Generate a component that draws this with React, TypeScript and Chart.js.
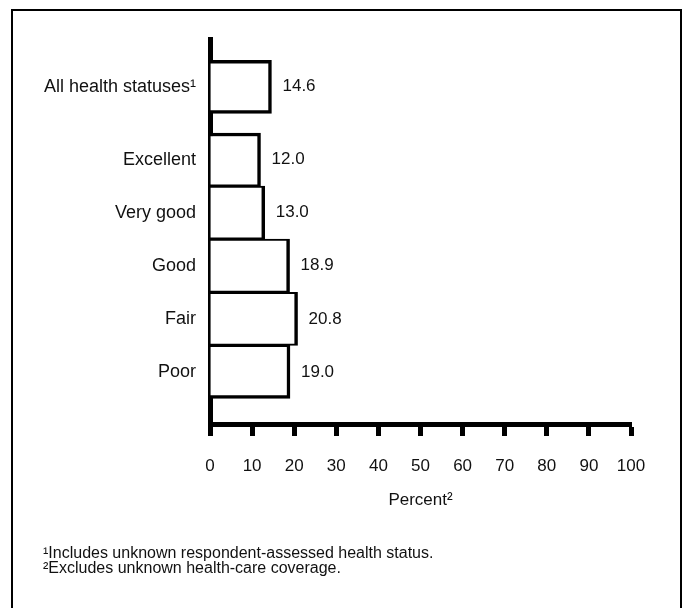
import React, { useEffect, useRef } from "react";
import { Chart, registerables } from "chart.js";

Chart.register(...registerables);

// ---- data ----
const categories = ["All health statuses¹", "Excellent", "Very good", "Good", "Fair", "Poor"];
const percents = [14.6, 12.0, 13.0, 18.9, 20.8, 19.0];
const valueLabels = ["14.6", "12.0", "13.0", "18.9", "20.8", "19.0"];
const xMin = 0;
const xMax = 100;
const xStep = 10;
const axisTitle = "Percent²";
const footnotes = [
  "¹Includes unknown respondent-assessed health status.",
  "²Excludes unknown health-care coverage.",
];

// extra space separating the summary row from the detailed rows
const GROUP_GAP = 0.37;
const rowPos = (i: number) => (i === 0 ? 0 : i + GROUP_GAP);

const FONT = "'Liberation Sans', Arial, Helvetica, sans-serif";

const valueLabelPlugin = {
  id: "valueLabels",
  afterDatasetsDraw(chart: any) {
    const ctx = chart.ctx;
    const meta = chart.getDatasetMeta(0);
    ctx.save();
    ctx.font = `17px ${FONT}`;
    ctx.fillStyle = "#111";
    ctx.textAlign = "left";
    ctx.textBaseline = "middle";
    meta.data.forEach((el: any, i: number) => {
      ctx.fillText(valueLabels[i], el.x + 11, el.y);
    });
    ctx.restore();
  },
};

export default function App() {
  const canvasRef = useRef<HTMLCanvasElement | null>(null);

  useEffect(() => {
    if (!canvasRef.current) return;
    const last = categories.length - 1;
    const chart = new Chart(canvasRef.current, {
      type: "bar",
      data: {
        datasets: [
          {
            data: percents.map((v, i) => ({ x: v, y: rowPos(i) })),
            backgroundColor: "#fff",
            borderColor: "#000",
            borderWidth: (c: any) => {
              const i = c.dataIndex;
              return {
                top: i <= 1 ? 3.5 : 2,
                bottom: i === 0 || i === last ? 3.5 : 2,
                right: 3.5,
                left: 0,
              };
            },
            borderSkipped: "start",
            barPercentage: 1,
            categoryPercentage: 1,
          } as any,
        ],
      },
      options: {
        indexAxis: "y",
        animation: false,
        responsive: true,
        maintainAspectRatio: false,
        layout: { padding: { left: 0, right: 53, top: 39, bottom: 84 } },
        plugins: {
          legend: { display: false },
          tooltip: { enabled: false },
        },
        scales: {
          x: {
            type: "linear",
            position: "bottom",
            min: xMin,
            max: xMax,
            ticks: {
              stepSize: xStep,
              color: "#111",
              font: { family: FONT, size: 17 },
              padding: 20,
              maxRotation: 0,
              autoSkip: false,
            },
            grid: {
              display: true,
              drawOnChartArea: false,
              drawTicks: true,
              tickLength: 12,
              tickWidth: 5,
              tickColor: "#000",
            },
            border: { display: true, color: "#000", width: 5 },
            title: {
              display: true,
              text: axisTitle,
              color: "#111",
              font: { family: FONT, size: 17 },
              padding: { top: 4, bottom: 13 },
            },
            afterFit: (s: any) => {
              s.height = 100;
            },
          },
          y: {
            type: "linear",
            reverse: true,
            offset: false,
            min: -0.9,
            max: 4 + GROUP_GAP + 1.98,
            afterBuildTicks: (s: any) => {
              s.ticks = categories.map((_, i) => ({ value: rowPos(i) }));
            },
            ticks: {
              callback: (_v: any, i: number) => categories[i],
              color: "#111",
              font: { family: FONT, size: 18 },
              padding: 14,
              autoSkip: false,
            },
            grid: { display: false, drawTicks: false, offset: false },
            border: { display: true, color: "#000", width: 5 },
            afterFit: (s: any) => {
              s.width = 210;
            },
          },
        },
      } as any,
      plugins: [valueLabelPlugin],
    });
    return () => chart.destroy();
  }, []);

  return (
    <div>
      <div
        style={{
          position: "fixed",
          left: 11,
          top: 9,
          width: 671,
          height: 700,
          boxSizing: "border-box",
          borderLeft: "2px solid #000",
          borderTop: "2px solid #000",
          borderRight: "2px solid #000",
        }}
      />
      <div style={{ position: "fixed", left: 0, top: 0, width: 684, height: 608 }}>
        <canvas ref={canvasRef} />
      </div>
      <div
        style={{
          position: "fixed",
          left: 43,
          top: 545,
          fontFamily: FONT,
          fontSize: 16,
          lineHeight: "15px",
          color: "#111",
          whiteSpace: "nowrap",
        }}
      >
        {footnotes.map((f, i) => (
          <div key={i}>{f}</div>
        ))}
      </div>
    </div>
  );
}
